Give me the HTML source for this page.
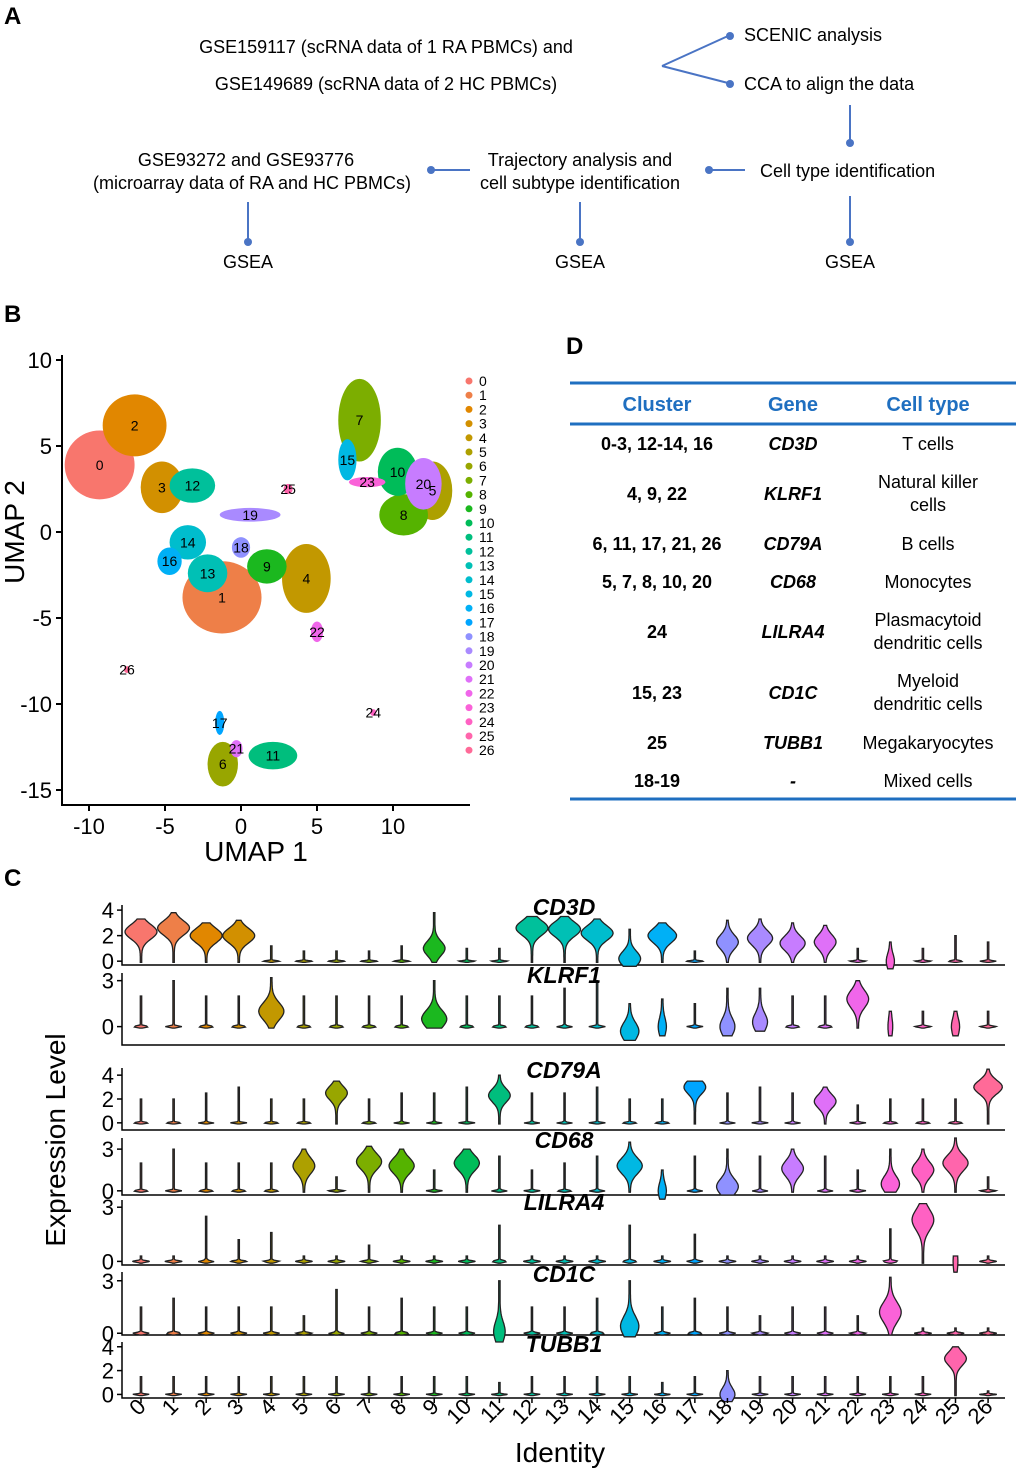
<!DOCTYPE html>
<html><head><meta charset="utf-8"><style>
body{margin:0;background:#fff;font-family:"Liberation Sans",sans-serif}
svg text{font-family:"Liberation Sans",sans-serif}
</style></head><body>
<svg id="fig" width="1020" height="1474" viewBox="0 0 1020 1474" xmlns="http://www.w3.org/2000/svg">
<rect width="1020" height="1474" fill="#fff"/>
<g font-size="18" fill="#000">
<text x="4" y="24" font-size="24" font-weight="bold">A</text>
<text x="386" y="53" text-anchor="middle">GSE159117 (scRNA data of 1 RA PBMCs) and</text>
<text x="386" y="90" text-anchor="middle">GSE149689 (scRNA data of 2 HC PBMCs)</text>
<text x="744" y="41">SCENIC analysis</text>
<text x="744" y="90">CCA to align the data</text>
<text x="760" y="177">Cell type identification</text>
<text x="580" y="166" text-anchor="middle">Trajectory analysis and</text>
<text x="580" y="189" text-anchor="middle">cell subtype identification</text>
<text x="246" y="166" text-anchor="middle">GSE93272 and GSE93776</text>
<text x="252" y="189" text-anchor="middle">(microarray data of RA and HC PBMCs)</text>
<text x="248" y="268" text-anchor="middle">GSEA</text>
<text x="580" y="268" text-anchor="middle">GSEA</text>
<text x="850" y="268" text-anchor="middle">GSEA</text>
<g stroke="#4a74c4" stroke-width="2" fill="none">
<path d="M662 66 L728 36 M662 66 L728 83 M850 105 L850 142 M745 170 L712 170 M470 170 L432 170 M248 202 L248 242 M580 202 L580 242 M850 196 L850 242"/>
</g>
<g fill="#4a74c4">
<circle cx="730" cy="36" r="4"/><circle cx="730" cy="84" r="4"/><circle cx="850" cy="143" r="4"/>
<circle cx="709" cy="170" r="4"/><circle cx="431" cy="170" r="4"/><circle cx="248" cy="242" r="4"/><circle cx="580" cy="242" r="4"/><circle cx="850" cy="242" r="4"/>
</g>
</g>
<text x="4" y="322" font-size="24" font-weight="bold">B</text>
<text x="566" y="354" font-size="24" font-weight="bold">D</text>
<text x="4" y="886" font-size="24" font-weight="bold">C</text>
<g id="umap"></g>
<g font-size="18" text-anchor="middle">
<line x1="570" y1="383" x2="1016" y2="383" stroke="#1f6fc0" stroke-width="3"/>
<line x1="570" y1="424" x2="1016" y2="424" stroke="#1f6fc0" stroke-width="3"/>
<line x1="570" y1="799" x2="1016" y2="799" stroke="#1f6fc0" stroke-width="3"/>
<g fill="#1f6fc0" font-weight="bold" font-size="20">
<text x="657" y="411">Cluster</text>
<text x="793" y="411">Gene</text>
<text x="928" y="411">Cell type</text>
</g>
<g><text x="657" y="450" font-weight="bold">0-3, 12-14, 16</text><text x="793" y="450" font-weight="bold" font-style="italic">CD3D</text><text x="928" y="450">T cells</text></g>
<g><text x="657" y="500" font-weight="bold">4, 9, 22</text><text x="793" y="500" font-weight="bold" font-style="italic">KLRF1</text><text x="928" y="488">Natural killer</text><text x="928" y="511">cells</text></g>
<g><text x="657" y="550" font-weight="bold">6, 11, 17, 21, 26</text><text x="793" y="550" font-weight="bold" font-style="italic">CD79A</text><text x="928" y="550">B cells</text></g>
<g><text x="657" y="588" font-weight="bold">5, 7, 8, 10, 20</text><text x="793" y="588" font-weight="bold" font-style="italic">CD68</text><text x="928" y="588">Monocytes</text></g>
<g><text x="657" y="638" font-weight="bold">24</text><text x="793" y="638" font-weight="bold" font-style="italic">LILRA4</text><text x="928" y="626">Plasmacytoid</text><text x="928" y="649">dendritic cells</text></g>
<g><text x="657" y="699" font-weight="bold">15, 23</text><text x="793" y="699" font-weight="bold" font-style="italic">CD1C</text><text x="928" y="687">Myeloid</text><text x="928" y="710">dendritic cells</text></g>
<g><text x="657" y="749" font-weight="bold">25</text><text x="793" y="749" font-weight="bold" font-style="italic">TUBB1</text><text x="928" y="749">Megakaryocytes</text></g>
<g><text x="657" y="787" font-weight="bold">18-19</text><text x="793" y="787" font-weight="bold" font-style="italic">-</text><text x="928" y="787">Mixed cells</text></g>
</g>
<g id="violins"></g>
</svg>
<script>
const NS="http://www.w3.org/2000/svg";
function mk(parent,tag,attrs,text){const e=document.createElementNS(NS,tag);for(const k in attrs)e.setAttribute(k,attrs[k]);if(text!==undefined)e.textContent=text;parent.appendChild(e);return e;}
const N=27;
const colors=["#F8766D","#EE7F48","#E18700","#D29000","#C29800","#ADA000","#98A600","#7CAE00","#55B300","#1BB81F","#00BC59","#00BE7D","#00C09B","#00C0B5","#00BDCD","#00B8E3","#00B0F6","#00A5FF","#8F91FF","#A98AFF","#C77CFF","#DF70F8","#F066EA","#FA62D8","#FF61C3","#FF65AC","#FF6A98"];

const clusterIds=[...Array(27).keys()];
const umapX=[-9.3,-1.25,-7,-5.2,4.3,12.6,-1.2,7.8,10.7,1.7,10.3,2.1,-3.2,-2.2,-3.5,7,-4.7,-1.4,0,0.6,12,-0.3,5,8.3,8.7,3.1,-7.5];
const umapY=[3.9,-3.8,6.2,2.6,-2.7,2.4,-13.5,6.5,1,-2,3.5,-13,2.7,-2.4,-0.6,4.2,-1.7,-11.1,-0.9,1,2.8,-12.6,-5.8,2.9,-10.5,2.5,-8];
const umapRx=[2.3,2.6,2.1,1.4,1.6,1.3,1.0,1.4,1.6,1.3,1.3,1.6,1.5,1.3,1.2,0.6,0.8,0.3,0.6,2.0,1.2,0.4,0.4,1.2,0.2,0.3,0.2];
const umapRy=[2.0,2.1,1.8,1.5,2.0,1.7,1.3,2.4,1.2,1.0,1.4,0.8,1.0,1.1,1.0,1.2,0.8,0.7,0.6,0.4,1.5,0.5,0.6,0.3,0.2,0.3,0.2];
const xTicks=[-10,-5,0,5,10];
const yTicks=[10,5,0,-5,-10,-15];
const U=document.getElementById('umap');
const ux=v=>241+15.2*v, uy=v=>532-17.2*v;
clusterIds.forEach(i=>{
  const e=mk(U,'ellipse',{cx:ux(umapX[i]),cy:uy(umapY[i]),rx:15.2*umapRx[i],ry:17.2*umapRy[i],fill:colors[i]});
  
  
});
clusterIds.forEach(i=>{
  const t=mk(U,'text',{x:ux(umapX[i]),y:uy(umapY[i])+5,'text-anchor':'middle','font-size':14},String(i));
  
  
});
mk(U,'path',{d:`M62 355 V805 H470`,stroke:'#000','stroke-width':2,fill:'none'});
xTicks.forEach(v=>{mk(U,'line',{x1:ux(v),x2:ux(v),y1:805,y2:811,stroke:'#000','stroke-width':2});
 const t=mk(U,'text',{x:ux(v),y:834,'text-anchor':'middle','font-size':22},String(v));});
yTicks.forEach(v=>{mk(U,'line',{x1:56,x2:62,y1:uy(v),y2:uy(v),stroke:'#000','stroke-width':2});
 const t=mk(U,'text',{x:52,y:uy(v)+8,'text-anchor':'end','font-size':22},String(v));});
let t=mk(U,'text',{x:256,y:861,'text-anchor':'middle','font-size':28},'UMAP 1');
t=mk(U,'text',{x:0,y:0,transform:'translate(24,532) rotate(-90)','text-anchor':'middle','font-size':28},'UMAP 2');
clusterIds.forEach(i=>{const y=381+i*14.2;
 mk(U,'circle',{cx:469,cy:y,r:3.5,fill:colors[i]});
 const l=mk(U,'text',{x:479,y:y+5,'font-size':14},String(i));});

const genes=['CD3D','KLRF1','CD79A','CD68','LILRA4','CD1C','TUBB1'];
const cd3dMax=[3.3,3.8,3.0,3.2,1.2,0.8,0.8,0.8,1.2,3.8,1.0,1.0,3.5,3.5,3.3,2.5,3.0,0.8,3.2,3.3,3.0,2.8,1.0,1.5,1.0,2.0,1.5];
const cd3dCenter=[2.3,2.6,2.0,2.0,0,0,0,0,0,1.0,0,0,2.6,2.5,2.2,0.2,2.0,0,1.5,1.8,1.4,1.5,0,0,0,0,0];
const cd3dWidth=[0.9,0.9,0.9,0.9,0,0,0,0,0,0.6,0,0,0.9,0.9,0.9,0.6,0.8,0,0.6,0.7,0.7,0.6,0,0.2,0,0,0];
const klrf1Max=[2,3,2,2,3.2,2,2,2,2,3,2,2,2,2.5,3,1.5,1.8,1.5,2.5,2.5,2,2,3,1,1,1,1];
const klrf1Center=[0,0,0,0,1,0,0,0,0,0.5,0,0,0,0,0,-0.3,0,0,0,0.3,0,0,1.8,0,0,0,0];
const klrf1Width=[0,0,0,0,0.7,0,0,0,0,0.7,0,0,0,0,0,0.5,0.2,0,0.4,0.4,0,0,0.6,0.1,0,0.2,0];
const cd79aMax=[2,2,2.5,3,2,2,3.5,2,2.5,2.5,3,4,2.5,2.5,3,2,2,3.5,2.5,3,2.5,3,1.5,2,2,2,4.5];
const cd79aCenter=[0,0,0,0,0,0,2.5,0,0,0,0,2.3,0,0,0,0,0,3,0,0,0,1.8,0,0,0,0,3];
const cd79aWidth=[0,0,0,0,0,0,0.6,0,0,0,0,0.6,0,0,0,0,0,0.6,0,0,0,0.6,0,0,0,0,0.8];
const cd68Max=[2,3,2,2,2,3,1,3.2,3,1.5,3,2.5,1.5,2,2.5,3.5,1.5,2.5,3,2.5,3,2.5,1.5,3,3,3.8,1];
const cd68Center=[0,0,0,0,0,1.8,0,2.1,1.8,0,2,0,0,0,0,1.8,0,0,0.3,0,1.6,0,0,0.5,1.5,2,0];
const cd68Width=[0,0,0,0,0,0.6,0,0.7,0.7,0,0.7,0,0,0,0,0.7,0.2,0,0.6,0,0.6,0,0,0.5,0.6,0.7,0];
const lilra4Max=[0.3,0.3,2.5,1.2,1.6,0.3,0.3,0.9,0.3,0.3,0.3,2,0.3,0.3,0.3,2,0.3,1.5,0.3,0.3,0.3,0.3,0.3,1.8,3.2,0.3,0.3];
const lilra4Center=[0,0,0,0,0,0,0,0,0,0,0,0,0,0,0,0,0,0,0,0,0,0,0,0,2.3,0,0];
const lilra4Width=[0,0,0,0,0,0,0,0,0,0,0,0,0,0,0,0,0,0,0,0,0,0,0,0,0.6,0.1,0];
const cd1cMax=[1.5,2,1.5,1.5,1.5,1,2.5,1.5,2,1.5,1.5,3,1.5,1.5,2,3,1.5,2,1.5,1,1.5,1.5,1,3.2,0.3,0.3,0.3];
const cd1cCenter=[0,0,0,0,0,0,0,0,0,0,0,0.1,0,0,0,0.4,0,0,0,0,0,0,0,1.2,0,0,0];
const cd1cWidth=[0,0,0,0,0,0,0,0,0,0,0,0.3,0,0,0,0.5,0,0,0,0,0,0,0,0.6,0,0,0];
const tubb1Max=[1.5,1.5,1.5,1.5,1.5,1.5,1.5,1.5,1.5,1.5,1.5,1,1.5,1.5,1.5,1.5,1,1.5,2,1.5,1.5,1.5,1.5,1.5,1.5,4,0.3];
const tubb1Center=[0,0,0,0,0,0,0,0,0,0,0,0,0,0,0,0,0,0,0,0,0,0,0,0,0,3,0];
const tubb1Width=[0,0,0,0,0,0,0,0,0,0,0,0,0,0,0,0,0,0,0.4,0,0,0,0,0,0,0.6,0];
const geneMax=[cd3dMax,klrf1Max,cd79aMax,cd68Max,lilra4Max,cd1cMax,tubb1Max];
const geneCenter=[cd3dCenter,klrf1Center,cd79aCenter,cd68Center,lilra4Center,cd1cCenter,tubb1Center];
const geneWidth=[cd3dWidth,klrf1Width,cd79aWidth,cd68Width,lilra4Width,cd1cWidth,tubb1Width];
const geneTicks=[[0,2,4],[0,3],[0,2,4],[0,3],[0,3],[0,3],[0,2,4]];
const panelTop=[905,973,1068,1138,1200,1272,1342];
const panelBot=[965,1045,1130,1195,1265,1335,1398];
const vTop=[4.4,3.5,4.6,3.8,3.4,3.5,4.4];
const vBot=[-0.3,-1.2,-0.6,-0.3,-0.2,-0.1,-0.3];
const V=document.getElementById('violins');
const vx=i=>141+32.58*i;
genes.forEach((g,gi)=>{
  const top=panelTop[gi],bot=panelBot[gi];
  const vy=v=>bot-(v-vBot[gi])/(vTop[gi]-vBot[gi])*(bot-top);
  const pg=mk(V,'g',{});
  
  
  mk(pg,'path',{d:`M122 ${top} V${bot} H1005`,stroke:'#000','stroke-width':1.5,fill:'none'});
  geneTicks[gi].forEach(v=>{mk(pg,'line',{x1:117,x2:122,y1:vy(v),y2:vy(v),stroke:'#000','stroke-width':1.5});
    mk(pg,'text',{x:114,y:vy(v)+8,'text-anchor':'end','font-size':22},String(v));});
  for(let i=0;i<N;i++){
    const mx=geneMax[gi][i],c=geneCenter[gi][i],w=geneWidth[gi][i];
    const lo=Math.min(-0.1,c-0.6*(w>0?1:0));
    const steps=30,R=[],L=[];
    for(let s=0;s<=steps;s++){
      const v=lo+(mx-lo)*s/steps;
      let hw=0.04+w*Math.exp(-Math.pow((v-c)/0.8,2))+(w===0?0.45*Math.exp(-Math.pow(v/0.06,2)):0);
      hw*=17;
      R.push([vx(i)+hw,vy(v)]);L.push([vx(i)-hw,vy(v)]);
    }
    const pts=R.concat(L.reverse()).map(p=>p[0].toFixed(1)+','+p[1].toFixed(1)).join(' ');
    const vp=mk(pg,'polygon',{points:pts,fill:colors[i],stroke:'#222','stroke-width':1.3});
    
    
  }
  mk(pg,'text',{x:564,y:top+10,'text-anchor':'middle','font-size':23,'font-weight':'bold','font-style':'italic'},g);
});
clusterIds.forEach(i=>{
  mk(V,'line',{x1:vx(i),x2:vx(i),y1:1398,y2:1403,stroke:'#000','stroke-width':1.5});
  const l=mk(V,'text',{x:0,y:0,transform:`translate(${vx(i)+6},${1408}) rotate(-45)`,'text-anchor':'end','font-size':22},String(i));
  
  
});
t=mk(V,'text',{x:560,y:1462,'text-anchor':'middle','font-size':28},'Identity');
t=mk(V,'text',{x:0,y:0,transform:'translate(65,1140) rotate(-90)','text-anchor':'middle','font-size':28},'Expression Level');
</script>
</body></html>
